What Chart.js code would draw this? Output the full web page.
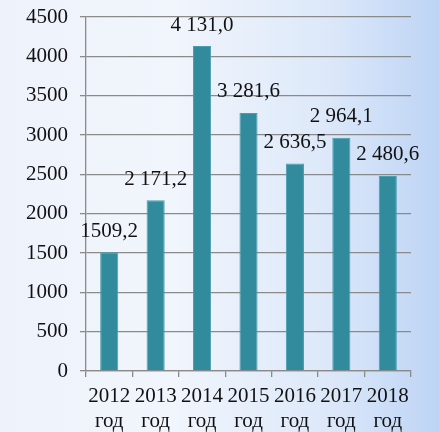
<!DOCTYPE html>
<html>
<head>
<meta charset="utf-8">
<script src="https://cdn.jsdelivr.net/npm/chart.js@4"></script>
<style>
  html, body { margin: 0; padding: 0; }
  body {
    width: 439px;
    height: 432px;
    overflow: hidden;
    background: linear-gradient(90deg, #eef3fb 0%, #f1f5fc 40%, #dce8f9 75%, #bdd4f5 100%);
  }
  canvas { display: block; }
</style>
</head>
<body>
<canvas id="chart" width="439" height="432"></canvas>
<script>
// Years on the x axis, each label on two lines ("2012" / "год")
const years = ['2012', '2013', '2014', '2015', '2016', '2017', '2018'];
const yearWord = 'год';

// Bar values and the labels printed above them, as shown on the chart
const values = [1509.2, 2171.2, 4131.0, 3281.6, 2636.5, 2964.1, 2480.6];
const valueLabels = ['1509,2', '2 171,2', '4 131,0', '3 281,6', '2 636,5', '2 964,1', '2 480,6'];

// Y axis range
const yMin = 0;
const yMax = 4500;
const yStep = 500;

const serif = '"Liberation Serif", "Times New Roman", serif';

// Draws the value text above each bar
const barValueLabels = {
  id: 'barValueLabels',
  afterDatasetsDraw(chart) {
    const { ctx } = chart;
    const meta = chart.getDatasetMeta(0);
    ctx.save();
    ctx.font = `21px ${serif}`;
    ctx.fillStyle = '#111';
    ctx.textAlign = 'center';
    ctx.textBaseline = 'middle';
    meta.data.forEach((bar, i) => {
      ctx.fillText(valueLabels[i], bar.x, bar.y - 21);
    });
    ctx.restore();
  },
};

new Chart(document.getElementById('chart').getContext('2d'), {
  type: 'bar',
  data: {
    labels: years.map((y) => [y, yearWord]),
    datasets: [
      {
        data: values,
        backgroundColor: '#318b9d',
        borderColor: '#4a9db0',
        borderWidth: 1,
        categoryPercentage: 1,
        barPercentage: 0.39,
      },
    ],
  },
  options: {
    responsive: false,
    animation: false,
    layout: { padding: { left: 14, right: 28, top: 0, bottom: 0 } },
    scales: {
      x: {
        // let the second label line run to the bottom edge like the original
        afterFit: (scale) => { scale.height = 61; },
        grid: {
          offset: true,
          drawOnChartArea: false,
          drawTicks: true,
          tickLength: 6,
          color: '#8a8a8a',
          lineWidth: 1.3,
        },
        border: { color: '#8a8a8a', width: 1.3 },
        ticks: {
          color: '#111',
          padding: 7,
          maxRotation: 0,
          autoSkip: false,
          font: { family: serif, size: 21, lineHeight: 1.18 },
        },
      },
      y: {
        min: yMin,
        max: yMax,
        grid: {
          color: '#8a8a8a',
          lineWidth: 1.3,
          tickLength: 6,
        },
        border: { color: '#8a8a8a', width: 1.3 },
        ticks: {
          stepSize: yStep,
          color: '#111',
          padding: 12,
          font: { family: serif, size: 21, lineHeight: 0.48 },
          callback: (v) => String(v),
        },
      },
    },
    plugins: {
      legend: { display: false },
      tooltip: { enabled: false },
    },
  },
  plugins: [barValueLabels],
});
</script>
</body>
</html>
